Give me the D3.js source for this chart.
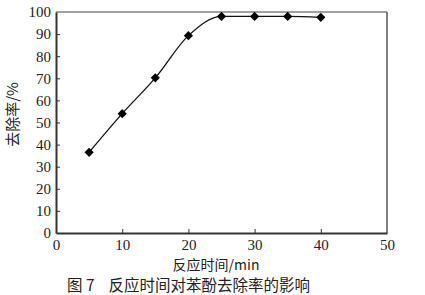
<!DOCTYPE html>
<html>
<head>
<meta charset="utf-8">
<script src="https://cdn.jsdelivr.net/npm/d3@7"></script>
<style>
  html, body { margin: 0; padding: 0; background: #fff; }
  svg { display: block; }
  .axis text { font-family: "Liberation Serif", "Times New Roman", serif; font-size: 15px; fill: #222; }
  .axis path, .axis line { stroke: #333; }
  .cjk { font-family: "Noto Sans CJK SC", sans-serif; fill: #222; }
</style>
</head>
<body>
<div id="chart"></div>
<script>
// reaction time (min) vs phenol removal rate (%)
var times = [5, 10, 15, 20, 25, 30, 35, 40];
var removal = [36.5, 54, 70.2, 89.3, 98, 98, 98, 97.6];
var xTicks = [0, 10, 20, 30, 40, 50];
var yTicks = [0, 10, 20, 30, 40, 50, 60, 70, 80, 90, 100];

var W = 425, H = 295;
var m = { top: 12, right: 38, bottom: 62, left: 56 };
var iw = W - m.left - m.right, ih = H - m.top - m.bottom;

var svg = d3.select("#chart").append("svg").attr("width", W).attr("height", H);
var g = svg.append("g").attr("transform", "translate(" + m.left + "," + m.top + ")");

var x = d3.scaleLinear().domain([0, 50]).range([0, iw]);
var y = d3.scaleLinear().domain([0, 100]).range([ih, 0]);

// frame: top + right thin
g.append("line").attr("x1", 0).attr("x2", iw).attr("y1", 0).attr("y2", 0)
  .attr("stroke", "#444").attr("stroke-width", 1.2);
g.append("line").attr("x1", iw).attr("x2", iw).attr("y1", 0).attr("y2", ih)
  .attr("stroke", "#555").attr("stroke-width", 1.5);

// axes, ticks pointing inward
var xa = g.append("g").attr("class", "axis").attr("transform", "translate(0," + ih + ")")
  .call(d3.axisBottom(x).tickValues(xTicks).tickSizeInner(-4).tickSizeOuter(0).tickPadding(6));
xa.select(".domain").attr("stroke-width", 2);
xa.selectAll(".tick").filter(function (d) { return d === 0 || d === 50; }).select("line").remove();

var ya = g.append("g").attr("class", "axis")
  .call(d3.axisLeft(y).tickValues(yTicks).tickSizeInner(-4).tickSizeOuter(0).tickPadding(5));
ya.select(".domain").attr("stroke-width", 2);
ya.selectAll(".tick").filter(function (d) { return d === 0 || d === 100; }).select("line").remove();

// curve
var pts = times.map(function (t, i) { return [t, removal[i]]; });
var line = d3.line().x(function (d) { return x(d[0]); }).y(function (d) { return y(d[1]); })
  .curve(d3.curveMonotoneX);
g.append("path").datum(pts).attr("d", line)
  .attr("fill", "none").attr("stroke", "#111").attr("stroke-width", 1.3);

// diamond markers
g.selectAll(".pt").data(pts).enter().append("path").attr("class", "pt")
  .attr("d", d3.symbol().type(d3.symbolSquare).size(42))
  .attr("transform", function (d) { return "translate(" + x(d[0]) + "," + y(d[1]) + ") rotate(45)"; })
  .attr("fill", "#000");

// axis titles
g.append("text").attr("class", "cjk").attr("text-anchor", "middle")
  .attr("transform", "translate(-38," + (ih / 2 - 8) + ") rotate(-90)")
  .attr("font-size", 15).text("去除率/%");
g.append("text").attr("class", "cjk").attr("text-anchor", "middle")
  .attr("x", 160).attr("y", ih + 37)
  .attr("font-size", 14).text("反应时间/min");

// caption
svg.append("text").attr("class", "cjk").attr("x", 67).attr("y", 291)
  .attr("font-size", 15.5).attr("xml:space", "preserve").text("图 7    反应时间对苯酚去除率的影响");
</script>
</body>
</html>
